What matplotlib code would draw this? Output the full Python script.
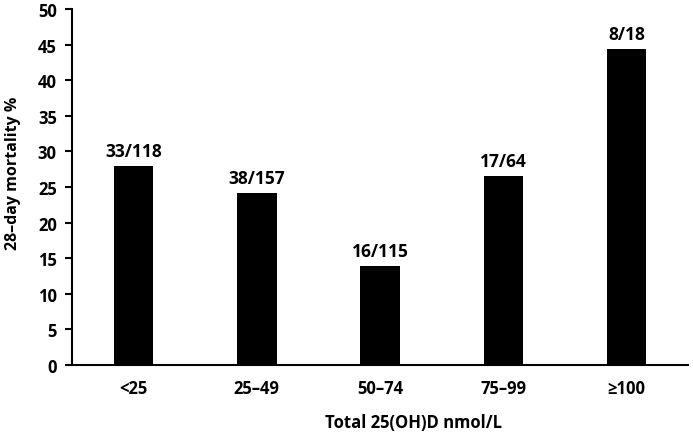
import matplotlib
matplotlib.use("Agg")
import matplotlib.pyplot as plt

categories = ["<25", "25\u201349", "50\u201374", "75\u201399", "\u2265100"]
mortality_pct = [28.0, 24.2, 13.9, 26.6, 44.4]
bar_labels = ["33/118", "38/157", "16/115", "17/64", "8/18"]
y_ticks = list(range(0, 51, 5))

plt.rcParams["font.family"] = ["Open Sans", "DejaVu Sans"]
plt.rcParams["font.weight"] = "bold"

fig = plt.figure(figsize=(6.93, 4.35), dpi=100)
ax = fig.add_axes([0.104, 0.159, 0.889, 0.818])

x = list(range(len(categories)))
bars = ax.bar(x, mortality_pct, width=0.32, color="black")
for rect, lab in zip(bars, bar_labels):
    ax.text(rect.get_x() + rect.get_width() / 2, rect.get_height() + 0.8, lab,
            ha="center", va="bottom", fontsize=12.5, fontweight="bold")

ax.set_xlim(-0.5, 4.5)
ax.set_ylim(0, 50)
ax.set_yticks(y_ticks)
ax.set_xticks(x)
ax.set_xticklabels(categories)
ax.tick_params(axis="x", length=0, pad=10, labelsize=12)
ax.tick_params(axis="y", length=5, width=1.5, direction="out", pad=6, labelsize=12)
for lab in ax.get_xticklabels() + ax.get_yticklabels():
    lab.set_fontweight("bold")

ax.spines["top"].set_visible(False)
ax.spines["right"].set_visible(False)
ax.spines["left"].set_linewidth(1.5)
ax.spines["bottom"].set_linewidth(1.5)

ax.set_ylabel("28\u2013day mortality %", fontsize=11.5, fontweight="bold")
ax.set_xlabel("Total 25(OH)D nmol/L", fontsize=12, fontweight="bold")
ax.xaxis.set_label_coords(0.554, -0.135)
ax.yaxis.set_label_coords(-0.083, 0.542)

fig.savefig("out.png", dpi=100, facecolor="white")
